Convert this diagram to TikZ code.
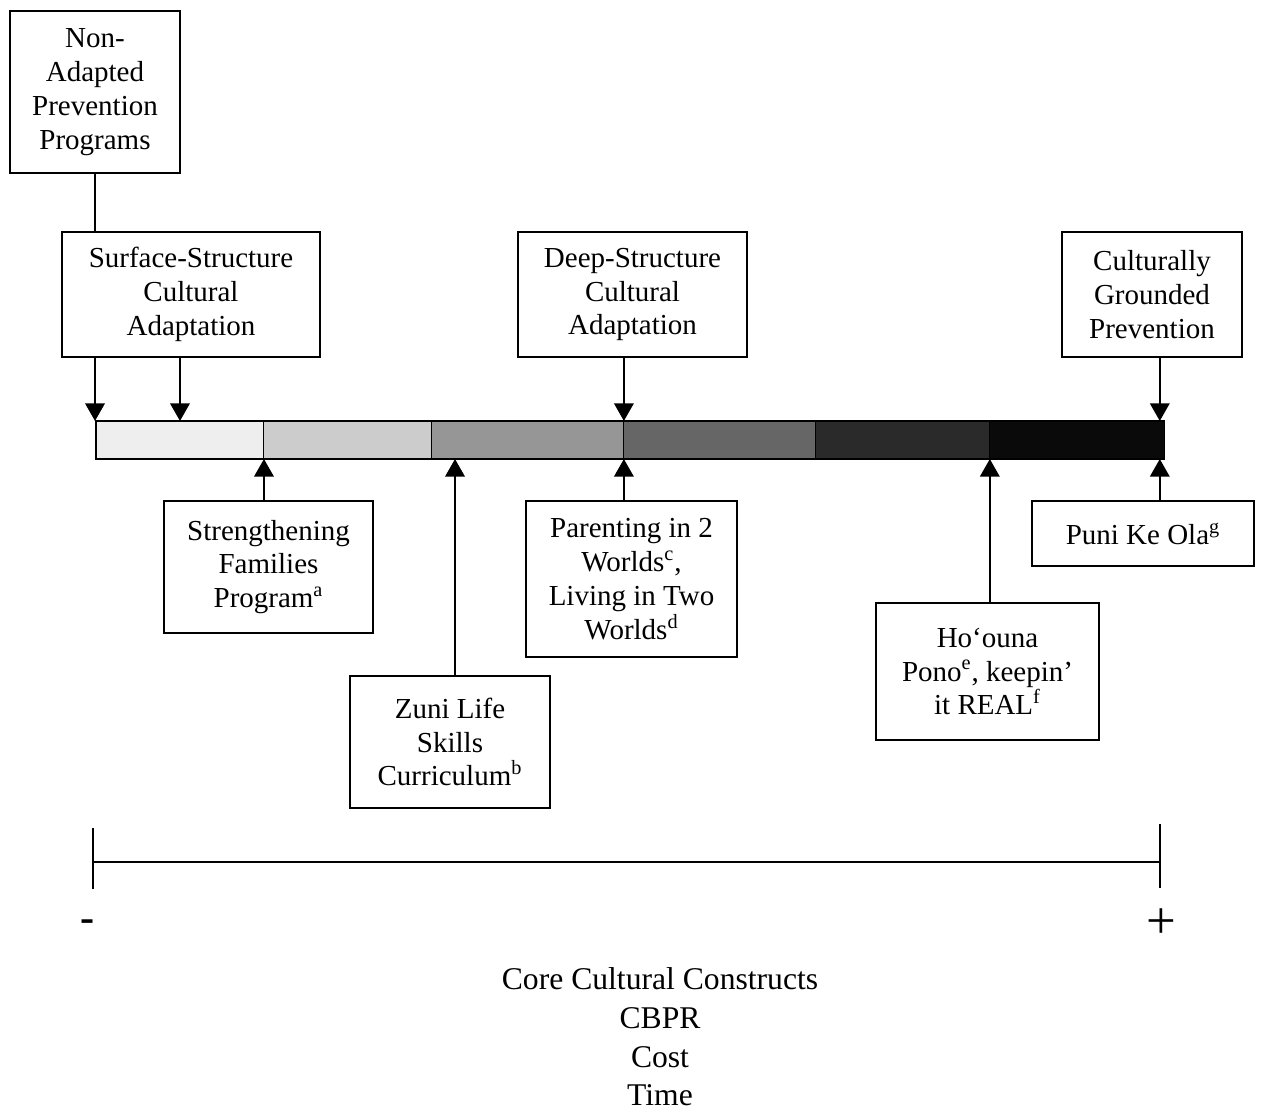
\documentclass[tikz,border=0pt]{standalone}
\usepackage{fontspec}
\setmainfont{Liberation Serif}
\usetikzlibrary{arrows.meta, positioning}

\begin{document}
\begin{tikzpicture}[
        x=0.02cm, y=-0.02cm,
        font=\fontsize{16.5}{19.3}\selectfont,
        prog/.style={rectangle, draw=black, line width=1.1pt, fill=white, align=center, inner sep=0pt},
        seg/.style={rectangle, draw=black, line width=0.6pt, minimum height=0.76cm, inner sep=0pt, outer sep=0pt},
        arrow/.style={-{Triangle[width=11pt, length=10pt]}, line width=1.3pt, draw=black},
        link/.style={line width=0.8pt, draw=black}
    ]
        \useasboundingbox (0,0) rectangle (1262,1111);

        % adaptation levels (top row)
        \node[prog, minimum width=3.4cm, minimum height=3.24cm] (nonad) at (95,92) {Non-\\Adapted\\Prevention\\Programs};
        \node[prog, minimum width=5.16cm, minimum height=2.5cm] (surf) at (191,294.5) {Surface-Structure\\Cultural\\Adaptation};
        \node[prog, minimum width=4.58cm, minimum height=2.5cm] (deep) at (632.5,294.5) {Deep-Structure\\Cultural\\Adaptation};
        \node[prog, minimum width=3.6cm, minimum height=2.5cm] (cult) at (1152,294.5) {Culturally\\Grounded\\Prevention};

        % shaded continuum
        \node[seg, fill={rgb,255:red,238;green,238;blue,238}, minimum width=3.36cm, anchor=west] (s1) at (96,440) {};
        \node[seg, fill={rgb,255:red,204;green,204;blue,204}, minimum width=3.36cm, right=0pt of s1] (s2) {};
        \node[seg, fill={rgb,255:red,150;green,150;blue,150}, minimum width=3.84cm, right=0pt of s2] (s3) {};
        \node[seg, fill={rgb,255:red,102;green,102;blue,102}, minimum width=3.84cm, right=0pt of s3] (s4) {};
        \node[seg, fill={rgb,255:red,42;green,42;blue,42}, minimum width=3.48cm, right=0pt of s4] (s5) {};
        \node[seg, fill={rgb,255:red,10;green,10;blue,10}, minimum width=3.5cm, right=0pt of s5] (s6) {};
        \coordinate (endtop) at ([xshift=-0.1cm]s6.north east);
        \coordinate (endbot) at ([xshift=-0.1cm]s6.south east);

        % example programs (below)
        \node[prog, minimum width=4.18cm, minimum height=2.64cm] (sfp) at (268.5,567) {Strengthening\\Families\\Program\textsuperscript{a}};
        \node[prog, minimum width=4.0cm, minimum height=2.64cm] (zuni) at (450,742) {Zuni Life\\Skills\\Curriculum\textsuperscript{b}};
        \node[prog, minimum width=4.22cm, minimum height=3.12cm] (par) at (631.5,579) {Parenting in 2\\Worlds\textsuperscript{c},\\Living in Two\\Worlds\textsuperscript{d}};
        \node[prog, minimum width=4.46cm, minimum height=2.74cm] (hoo) at (987.5,671.5) {Ho‘ouna\\Pono\textsuperscript{e}, keepin’\\it REAL\textsuperscript{f}};
        \node[prog, minimum width=4.44cm, minimum height=1.3cm] (puni) at (1143,533.5) {Puni Ke Ola\textsuperscript{g}};

        % connectors
        \draw[link] (nonad.south) -- (nonad.south |- surf.north);
        \draw[arrow] (surf.south -| nonad.south) -- (nonad.south |- s1.north);
        \draw[arrow] (surf.south -| s1.north) -- (s1.north);
        \draw[arrow] (deep.south -| s3.north east) -- (s3.north east);
        \draw[arrow] (cult.south -| endtop) -- (endtop);
        \draw[arrow] (s1.south east |- sfp.north) -- (s1.south east);
        \draw[arrow] ([xshift=0.1cm]zuni.north) -- ([xshift=0.1cm]zuni.north |- s3.south);
        \draw[arrow] (s3.south east |- par.north) -- (s3.south east);
        \draw[arrow] (s5.south east |- hoo.north) -- (s5.south east);
        \draw[arrow] (endbot |- puni.north) -- (endbot);

        % scale
        \coordinate (lo) at (93,862);
        \coordinate (hi) at (1160,862);
        \draw[line width=1.1pt] (lo) -- (hi);
        \draw[line width=0.6pt] ([yshift=0.68cm]lo) -- ([yshift=-0.54cm]lo);
        \draw[line width=0.6pt] ([yshift=0.76cm]hi) -- ([yshift=-0.52cm]hi);
        \node[font=\fontsize{24}{26}\selectfont\bfseries] (minus) at (88,926) {-};
        \node[font=\fontsize{30}{32}\selectfont] (plus) at (1161,924) {+};
        \node[align=center, font=\fontsize{18}{22}\selectfont] (factors) at (660,1037) {Core Cultural Constructs\\CBPR\\Cost\\Time};
    \end{tikzpicture}
\end{document}
